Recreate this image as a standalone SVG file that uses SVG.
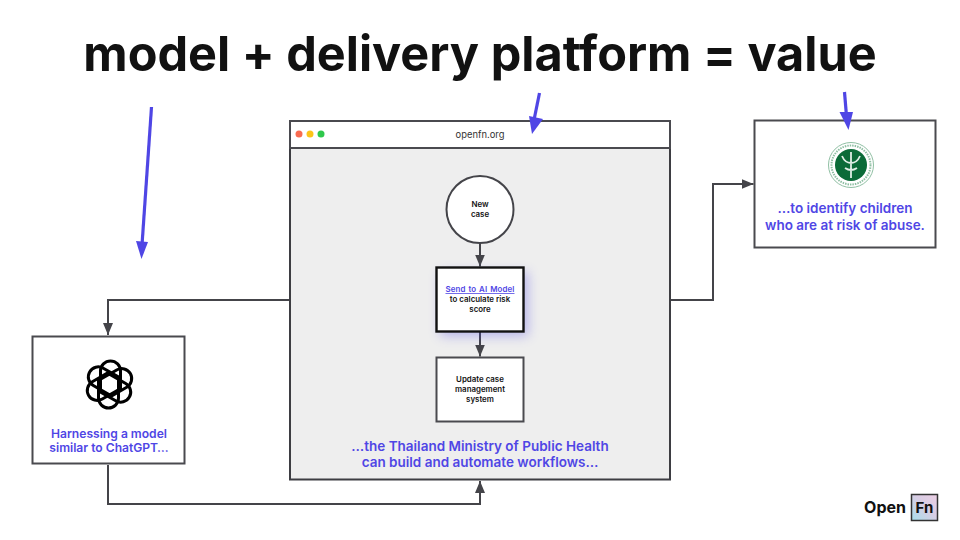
<svg xmlns="http://www.w3.org/2000/svg" width="960" height="540" viewBox="0 0 960 540">
<defs>
<style>
text{font-family:Inter,"Liberation Sans",sans-serif;text-anchor:middle}
.box{fill:#fff;stroke:#4a4a4f;stroke-width:2}
.con{fill:none;stroke:#444449;stroke-width:2}
.cap{fill:#4f46e5;font-weight:600;font-size:13.5px}
.small{fill:#111;font-weight:600;font-size:7.9px}
.hl{stroke:#4f46e5;stroke-width:3.2;fill:none}
</style>
<marker id="a" viewBox="0 0 12 10" refX="12" refY="5" markerWidth="6" markerHeight="5" orient="auto"><path d="M0 0L12 5L0 10Z" fill="#444449"/></marker>
<linearGradient id="fn" x1="0" y1="1" x2="1" y2="0"><stop offset="0" stop-color="#a8e0ec"/><stop offset=".55" stop-color="#d8cde4"/><stop offset="1" stop-color="#eccfe4"/></linearGradient>
<filter id="glow" x="-40%" y="-40%" width="180%" height="180%"><feGaussianBlur stdDeviation="6"/></filter>
<path id="lobe" d="M-9 5.200V-13.500A10 10 0 0 1 11-13.500V6.350"/>
</defs>
<rect width="960" height="540" fill="#fff"/>
<text id="title" x="480" y="71" font-size="48.600" font-weight="700" fill="#111">model + delivery platform = value</text>
<g id="connectors">
<path class="con" d="M289 300H108V335" marker-end="url(#a)"/>
<path class="con" d="M108 465V504H480V481" marker-end="url(#a)"/>
<path class="con" d="M671 300H713V184H753.500" marker-end="url(#a)"/>
</g>
<g id="window">
<rect x="290" y="121" width="380" height="358.500" fill="#eee" stroke="#3d3d42" stroke-width="2"/>
<rect x="290" y="121" width="380" height="27" fill="#fff" stroke="#4a4a4f" stroke-width="2"/>
<circle cx="299" cy="134" r="3.500" fill="#f96b50"/><circle cx="310" cy="134" r="3.500" fill="#fcc419"/><circle cx="321" cy="134" r="3.500" fill="#2fc84c"/>
<text x="480" y="138" font-size="9.400" fill="#333">openfn.org</text>
<text class="cap" x="480" y="451">…the Thailand Ministry of Public Health</text>
<text class="cap" x="480" y="467">can build and automate workflows…</text>
</g>
<g id="flow-connectors">
<path class="con" d="M480 243V266.500" marker-end="url(#a)"/>
<path class="con" d="M480 332V356.500" marker-end="url(#a)"/>
</g>
<g id="new-case">
<circle cx="480" cy="209.500" r="33.500" fill="#fff" stroke="#444449" stroke-width="2"/>
<text class="small" x="480" y="207">New</text><text class="small" x="480" y="217">case</text>
</g>
<g id="send">
<rect x="440" y="272" width="88" height="64" fill="#4f46e5" opacity=".35" filter="url(#glow)"/>
<rect x="436.500" y="267.500" width="87" height="64" fill="#fff" stroke="#111" stroke-width="2.400"/>
<text class="small" x="480" y="292" style="fill:#4f46e5;text-decoration:underline;word-spacing:.8px;letter-spacing:.12px">Send to AI Model</text>
<text class="small" x="480" y="302">to calculate risk</text><text class="small" x="480" y="312">score</text>
</g>
<g id="update">
<rect class="box" x="436.500" y="357.500" width="87" height="64"/>
<text class="small" x="480" y="382">Update case</text><text class="small" x="480" y="392">management</text><text class="small" x="480" y="402">system</text>
</g>
<g id="chatgpt">
<rect class="box" x="32.500" y="336.500" width="152" height="127"/>
<g fill="none" stroke="#000" stroke-width="3" transform="translate(109.500 384.500)">
<use href="#lobe"/>
<use href="#lobe" transform="rotate(60)"/>
<use href="#lobe" transform="rotate(120)"/>
<use href="#lobe" transform="rotate(180)"/>
<use href="#lobe" transform="rotate(240)"/>
<use href="#lobe" transform="rotate(300)"/>
</g>
<text class="cap" x="109" y="438" style="font-size:12.100px">Harnessing a model</text>
<text class="cap" x="109" y="452" style="font-size:12.100px">similar to ChatGPT…</text>
</g>
<g id="ministry">
<rect class="box" x="754.500" y="120.500" width="181" height="127"/>
<circle cx="851" cy="165" r="22.500" fill="#fff" stroke="#8fbfa3" stroke-width="1"/>
<circle cx="851" cy="165" r="19.500" fill="none" stroke="#8fbfa3" stroke-width="2" stroke-dasharray="1.500 1"/>
<circle cx="851" cy="165" r="16" fill="#0b6b38"/>
<path d="M851 152V178M842 156q3 7 9 7q6 0 9-7M845 168q6 4 12 0" stroke="#dfeee5" stroke-width="1.800" fill="none"/>
<text class="cap" x="845" y="213">…to identify children</text>
<text class="cap" x="845" y="229.500">who are at risk of abuse.</text>
</g>
<g id="highlights">
<path class="hl" d="M151.500 107L142 245"/><path d="M136 241L148 242L141.500 259Z" fill="#4f46e5"/>
<path class="hl" d="M539.500 93L534 120"/><path d="M529 116L543 119L532 134Z" fill="#4f46e5"/>
<path class="hl" d="M844.500 92L846.500 116"/><path d="M839.500 112L853 112L848.500 130Z" fill="#4f46e5"/>
</g>
<g id="logo">
<text x="885" y="513" font-size="16" font-weight="700" fill="#111">Open</text>
<rect x="911.500" y="494.500" width="26" height="26" fill="url(#fn)" stroke="#333" stroke-width="1.500"/>
<text x="924.500" y="513" font-size="15" font-weight="700" fill="#111">Fn</text>
</g>
</svg>
